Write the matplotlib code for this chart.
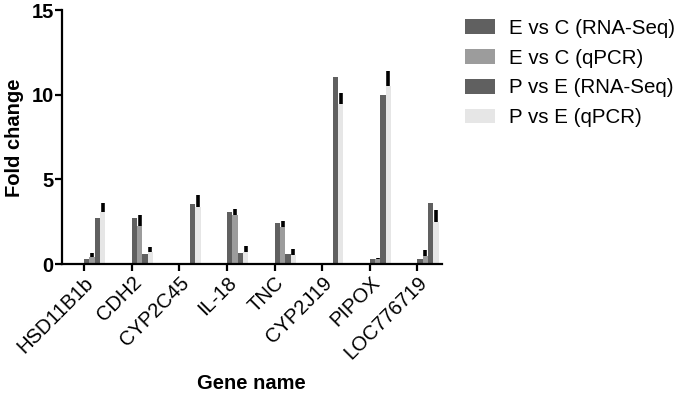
import matplotlib
matplotlib.use("Agg")
import matplotlib.pyplot as plt
import numpy as np

genes = ["HSD11B1b", "CDH2", "CYP2C45", "IL-18", "TNC", "CYP2J19", "PIPOX", "LOC776719"]
series_names = ["E vs C (RNA-Seq)", "E vs C (qPCR)", "P vs E (RNA-Seq)", "P vs E (qPCR)"]
ec_rna = [0.30, 2.69, 0.03, 3.08, 2.43, 0.03, 0.30, 0.27]
ec_qpcr = [0.40, 2.24, 0.04, 2.90, 2.16, 0.04, 0.27, 0.46]
ec_qpcr_err = [0.23, 0.64, 0.02, 0.37, 0.39, 0.02, 0.08, 0.38]
pe_rna = [2.69, 0.59, 3.53, 0.63, 0.59, 11.05, 10.0, 3.63]
pe_qpcr = [3.08, 0.69, 3.37, 0.69, 0.53, 9.42, 10.5, 2.46]
pe_qpcr_err = [0.52, 0.31, 0.73, 0.37, 0.33, 0.65, 0.90, 0.73]
yticks = [0, 5, 10, 15]

colors = ["#606060", "#9c9c9c", "#606060", "#e6e6e6"]

plt.rcParams['font.family'] = ['Liberation Sans', 'DejaVu Sans']

fig = plt.figure(figsize=(6.8, 3.95), dpi=100)
ax = fig.add_axes([62/680, 1 - 264/395, (441.7-62)/680, 254/395])

x = np.arange(len(genes))
w = 0.112
data = [ec_rna, ec_qpcr, pe_rna, pe_qpcr]
errs = [None, ec_qpcr_err, None, pe_qpcr_err]
for i, (vals, err) in enumerate(zip(data, errs)):
    xs = x + i * w
    ax.bar(xs, vals, width=w, align='edge', color=colors[i], label=series_names[i],
           linewidth=0, zorder=2)
    if err is not None:
        ax.errorbar(xs + w / 2, vals, yerr=[np.zeros(len(vals)), err], fmt='none',
                    ecolor='black', elinewidth=2.6, capsize=0, zorder=3)

ax.set_xlim(-0.462, 7.51)
ax.set_ylim(0, 15)
ax.set_yticks(yticks)
ax.set_yticklabels([str(t) for t in yticks], fontsize=14.5, fontweight='bold')
ax.set_xticks(x)
ax.set_xticklabels(genes, rotation=45, ha='right', va='top', rotation_mode='anchor', fontsize=14.5)

for s in ['top', 'right']:
    ax.spines[s].set_visible(False)
for s in ['left', 'bottom']:
    ax.spines[s].set_linewidth(1.6)
ax.tick_params(axis='both', width=1.6, length=5, color='black')
ax.tick_params(axis='y', pad=1)
ax.tick_params(axis='x', pad=1.5)

ax.set_ylabel("Fold change", fontsize=14.5, fontweight='bold', va='center')
ax.yaxis.set_label_coords(-0.124, 0.496)
ax.set_xlabel("Gene name", fontsize=14.5, fontweight='bold', va='center')
ax.xaxis.set_label_coords(0.5, -0.472)

leg = fig.legend(loc='upper left', bbox_to_anchor=(465/680, 1 - 19/395), frameon=False,
                 fontsize=14.8, handlelength=1.45, handleheight=0.72, handletextpad=0.7,
                 labelspacing=0.52, borderpad=0, borderaxespad=0)

fig.savefig("out.png", dpi=100)
